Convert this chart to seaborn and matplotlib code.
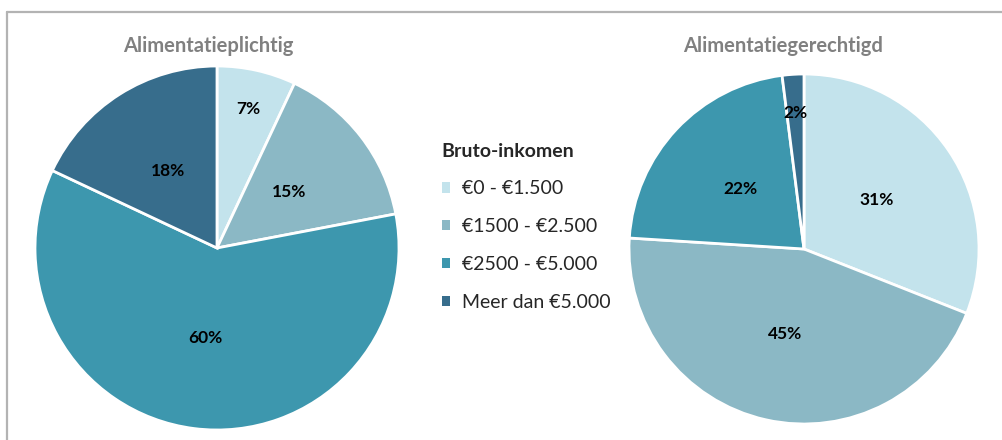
import matplotlib
matplotlib.use('Agg')
import seaborn as sns
import matplotlib.pyplot as plt
from matplotlib.lines import Line2D
from matplotlib.patches import Patch

categories = ["€0 - €1.500", "€1500 - €2.500", "€2500 - €5.000", "Meer dan €5.000"]
plichtig = [7, 15, 60, 18]
gerechtigd = [31, 45, 22, 2]
titles = ["Alimentatieplichtig", "Alimentatiegerechtigd"]
legend_title = "Bruto-inkomen"

colors = ["#C3E3EC", "#8BB8C5", "#3D97AE", "#376D8C"]

sns.set_theme(style="white")
plt.rcParams['font.family'] = ['Lato', 'DejaVu Sans']

fig = plt.figure(figsize=(10.03, 4.4), dpi=100)
fig.patch.set_facecolor("white")

# frame (top and left edges visible)
fig.add_artist(Line2D([7 / 1003, 7 / 1003], [0, 1 - 12 / 440], color="#B3B3B3", lw=1.6))
fig.add_artist(Line2D([7 / 1003, 1], [1 - 12 / 440, 1 - 12 / 440], color="#B3B3B3", lw=1.6))


def draw_pie(rect, values, title, title_xy):
    ax = fig.add_axes(rect)
    wedges, texts, autotexts = ax.pie(
        values, colors=colors, startangle=90, counterclock=False,
        autopct=lambda p: f"{p:.0f}%", pctdistance=0.5,
        wedgeprops=dict(edgecolor="white", linewidth=2),
        textprops=dict(fontsize=12.5, fontweight="bold", color="black"))
    # small slices get their label further out, like Excel's best fit
    for v, t in zip(values, autotexts):
        if v < 10:
            x, y = t.get_position()
            t.set_position((x * 0.78 / 0.5, y * 0.78 / 0.5))
    ax.set_xlim(-1, 1)
    ax.set_ylim(-1, 1)
    ax.set_aspect("equal")
    ax.axis("off")
    fig.text(title_xy[0], title_xy[1], title, ha="center", va="center",
             fontsize=14.5, fontweight="bold", color="#808080")


draw_pie([35 / 1003, 10 / 440, 364 / 1003, 364 / 440], plichtig, titles[0],
         (208 / 1003, 1 - 46 / 440))
draw_pie([629 / 1003, 16 / 440, 350 / 1003, 350 / 440], gerechtigd, titles[1],
         (783 / 1003, 1 - 46 / 440))

handles = [Patch(facecolor=c, edgecolor="none") for c in colors]
leg = fig.legend(handles, categories, title=legend_title,
                 loc="upper left", bbox_to_anchor=(426 / 1003, 1 - 127 / 440),
                 frameon=False, fontsize=14, handlelength=0.45, handleheight=0.45,
                 handletextpad=0.6, labelspacing=1.07, alignment="left",
                 borderpad=0.3)
leg.get_title().set_fontweight("bold")
leg.get_title().set_fontsize(14)

plt.savefig("out.png", dpi=100, facecolor="white")
